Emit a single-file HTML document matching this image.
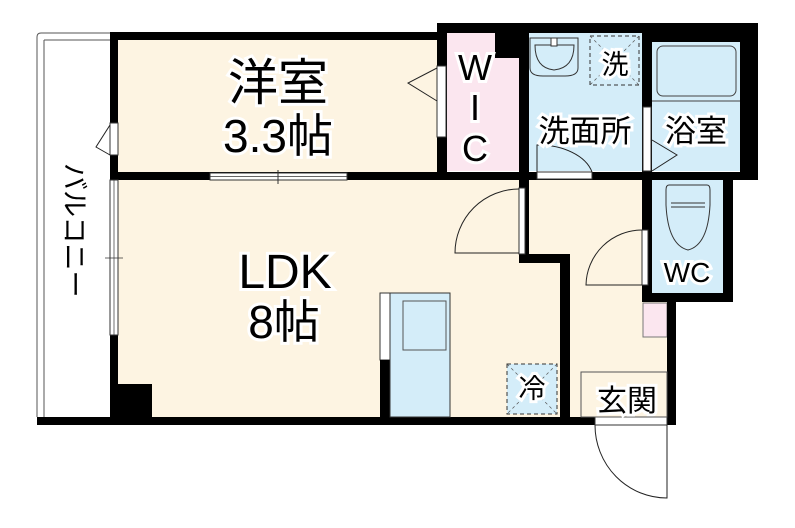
<!DOCTYPE html>
<html><head><meta charset="utf-8"><style>
html,body{margin:0;padding:0;background:#fff}
svg text{font-family:"Liberation Sans","Noto Sans CJK JP",sans-serif;fill:#000;stroke:#fff;stroke-width:6px;paint-order:stroke;text-anchor:middle}
</style></head><body>
<svg width="795" height="523" viewBox="0 0 795 523" xmlns="http://www.w3.org/2000/svg">
<path d="M37 417 V37 Q37 33 41 33 H110" fill="none" stroke="#555" stroke-width="1"/>
<line x1="44" y1="40" x2="44" y2="417" stroke="#555" stroke-width="1"/>
<line x1="44" y1="40" x2="110" y2="40" stroke="#555" stroke-width="1"/>
<rect x="118" y="40" width="322" height="133" fill="#fdf4e2"/>
<rect x="118" y="180" width="442" height="237" fill="#fdf4e2"/>
<rect x="529" y="180" width="113" height="237" fill="#fdf4e2"/>
<rect x="560" y="263" width="110" height="154" fill="#fdf4e2"/>
<rect x="447" y="33" width="72" height="138" fill="#fbe6ef"/>
<rect x="529" y="33" width="113" height="138" fill="#d4edf9"/>
<rect x="652" y="42" width="88" height="129" fill="#d4edf9"/>
<rect x="652" y="180" width="71" height="113" fill="#d4edf9"/>
<rect x="643" y="303" width="24" height="34" fill="#fbe6ef" stroke="#777" stroke-width="1"/>
<g fill="#000">
<rect x="110" y="32" width="337" height="8"/>
<rect x="437" y="23" width="321" height="10"/>
<rect x="740" y="23" width="18" height="157"/>
<rect x="642" y="33" width="10" height="147"/>
<rect x="652" y="33" width="88" height="9"/>
<rect x="495" y="33" width="24" height="25"/>
<rect x="519" y="33" width="10" height="147"/>
<rect x="437" y="23" width="10" height="157"/>
<rect x="110" y="32" width="8" height="393"/>
<rect x="110" y="172" width="648" height="8"/>
<rect x="723" y="180" width="10" height="122"/>
<rect x="642" y="180" width="10" height="122"/>
<rect x="642" y="293" width="91" height="9"/>
<rect x="667" y="302" width="9" height="123"/>
<rect x="519" y="180" width="10" height="83"/>
<rect x="519" y="254" width="51" height="9"/>
<rect x="560" y="254" width="10" height="171"/>
<rect x="37" y="417" width="639" height="8"/>
<rect x="110" y="384" width="42" height="41"/>
</g>
<g fill="#fff" stroke="#333" stroke-width="1">
<rect x="210" y="173" width="137" height="7"/>
<rect x="110" y="180" width="8" height="155"/>
<rect x="110" y="123" width="8" height="32"/>
<rect x="437" y="66" width="9" height="71"/>
<rect x="643" y="107" width="8" height="64"/>
<rect x="537" y="172" width="55" height="7"/>
<rect x="519" y="188" width="6" height="66"/>
<rect x="642" y="230" width="6" height="55"/>
<rect x="595" y="417" width="72" height="8"/>
</g>
<line x1="278" y1="170" x2="278" y2="184" stroke="#333"/>
<line x1="210" y1="176.5" x2="347" y2="176.5" stroke="#333" stroke-width="0.7"/>
<line x1="114" y1="180" x2="114" y2="335" stroke="#333" stroke-width="0.7"/>
<line x1="105" y1="258" x2="123" y2="258" stroke="#333" stroke-width="0.7"/>
<g fill="none" stroke="#222" stroke-width="1">
<polyline points="110,125 96,147 110,155"/>
<polyline points="437,68 408,83 437,101"/>
<polyline points="652,140 677,155 652,171"/>
<path d="M537 172 V145 A55 35 0 0 1 592 172"/>
<path d="M519 253 H455 A64 64 0 0 1 519 189"/>
<path d="M642 285 H586 A56 56 0 0 1 642 230"/>
<path d="M595 425 A72 73 0 0 0 667 498 V425"/>
</g>
<rect x="581" y="372" width="86" height="45" fill="none" stroke="#555"/>
<rect x="380" y="293" width="10" height="67" fill="#fff" stroke="#333"/>
<rect x="380" y="360" width="10" height="57" fill="#000"/>
<rect x="390" y="293" width="60" height="124" fill="#d4edf9" stroke="#333"/>
<rect x="403" y="301" width="43" height="49" fill="none" stroke="#555"/>
<rect x="507" y="364" width="50" height="50" fill="#d4edf9" stroke="#333" stroke-dasharray="4,3"/>
<path d="M507 364 L557 414 M557 364 L507 414" stroke="#555" stroke-width="0.7" stroke-dasharray="3,3"/>
<rect x="590" y="36" width="49" height="49" fill="none" stroke="#333" stroke-dasharray="4,3"/>
<path d="M590 36 L639 85 M639 36 L590 85" stroke="#555" stroke-width="0.7" stroke-dasharray="3,3"/>
<path d="M530 38 H578 V68 Q578 76 565 76 H543 Q530 76 530 68 Z" fill="none" stroke="#333"/>
<path d="M535 45 Q535 68 554 70 Q574 68 574 45 Z" fill="none" stroke="#333"/>
<rect x="551" y="38" width="6" height="8" fill="#fff" stroke="#333"/>
<rect x="657" y="46" width="79" height="50" rx="6" fill="none" stroke="#444"/>
<line x1="652" y1="101" x2="740" y2="101" stroke="#444"/>
<path d="M669 185 H707 Q710 185 710 190 V205 Q708 245 688 250 Q668 245 666 205 V190 Q666 185 669 185 Z" fill="none" stroke="#333"/>
<line x1="671" y1="203" x2="705" y2="203" stroke="#333"/>
<line x1="671" y1="207" x2="705" y2="207" stroke="#333"/>
<text x="278" y="100" font-size="50">洋室</text>
<text x="278" y="152" font-size="46">3.3帖</text>
<text x="285" y="288" font-size="48">LDK</text>
<text x="284" y="338" font-size="46">8帖</text>
<text x="475" y="80" font-size="36">W</text>
<text x="475" y="120" font-size="36">I</text>
<text x="475" y="161" font-size="36">C</text>
<text x="585" y="142" font-size="31">洗面所</text>
<text x="696" y="142" font-size="31">浴室</text>
<text x="615" y="74" font-size="27">洗</text>
<text x="687" y="282" font-size="28">WC</text>
<text x="532" y="398" font-size="27">冷</text>
<text x="627" y="411" font-size="30">玄関</text>
<text x="0" y="0" font-size="27" style="text-anchor:start" transform="translate(65,163) rotate(90)">バルコニー</text>
</svg>
</body></html>
